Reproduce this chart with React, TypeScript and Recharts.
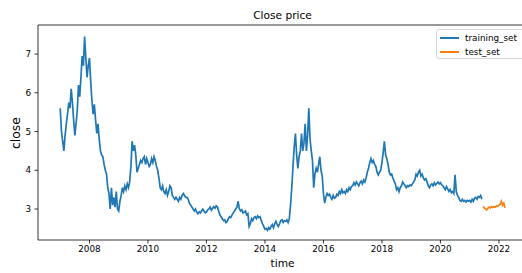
import React from 'react';
import { LineChart, Line, XAxis, YAxis, ReferenceLine } from 'recharts';

// semi-monthly close values (24 per year)
const close2007 = [5.6, 5.0, 4.75, 4.5, 4.9, 5.2, 5.45, 5.75, 5.6, 6.1, 5.75, 5.3, 4.9, 5.2, 5.55, 6.2, 5.9, 6.4, 6.95, 6.7, 7.45, 6.9, 6.4, 6.7];
const close2008 = [6.9, 6.3, 5.8, 5.45, 5.7, 5.3, 4.95, 5.2, 4.8, 4.5, 4.4, 4.35, 4.15, 4.0, 3.9, 3.55, 3.4, 3.0, 3.55, 3.1, 3.3, 3.05, 3.45, 3.0];
const close2009 = [2.95, 3.2, 3.35, 3.55, 3.45, 3.6, 3.5, 3.65, 3.55, 3.7, 4.1, 4.75, 4.5, 4.65, 4.4, 3.95, 4.05, 4.15, 4.25, 4.2, 4.3, 4.35, 4.15, 4.3];
const close2010 = [4.2, 4.1, 4.15, 4.3, 4.2, 4.35, 4.25, 4.1, 4.0, 3.8, 3.55, 3.5, 3.6, 3.45, 3.4, 3.5, 3.35, 3.45, 3.6, 3.55, 3.35, 3.3, 3.25, 3.3];
const close2011 = [3.25, 3.2, 3.3, 3.25, 3.35, 3.4, 3.35, 3.3, 3.3, 3.25, 3.15, 3.1, 3.05, 3.0, 2.95, 3.0, 2.92, 2.88, 2.93, 2.9, 2.95, 3.0, 2.95, 2.9];
const close2012 = [2.92, 2.98, 3.0, 3.05, 2.97, 3.02, 3.06, 3.02, 3.08, 3.05, 2.95, 2.85, 2.8, 2.75, 2.7, 2.72, 2.65, 2.68, 2.75, 2.8, 2.78, 2.85, 2.9, 2.95];
const close2013 = [3.0, 3.05, 3.2, 3.0, 2.95, 2.98, 2.9, 2.92, 2.95, 2.85, 2.88, 2.55, 2.62, 2.75, 2.7, 2.78, 2.8, 2.75, 2.82, 2.78, 2.8, 2.7, 2.62, 2.55];
const close2014 = [2.48, 2.5, 2.45, 2.52, 2.48, 2.55, 2.6, 2.52, 2.62, 2.68, 2.6, 2.55, 2.62, 2.7, 2.72, 2.65, 2.7, 2.68, 2.72, 2.65, 2.75, 3.1, 3.55, 4.1];
const close2015 = [4.6, 4.95, 4.4, 4.05, 4.35, 4.5, 4.95, 4.5, 4.7, 5.2, 4.5, 4.9, 5.6, 4.8, 4.5, 4.25, 3.55, 3.9, 4.05, 3.95, 4.15, 4.35, 4.0, 3.85];
const close2016 = [3.4, 3.15, 3.3, 3.4, 3.35, 3.38, 3.3, 3.25, 3.35, 3.28, 3.3, 3.38, 3.35, 3.45, 3.4, 3.5, 3.42, 3.45, 3.4, 3.5, 3.45, 3.55, 3.5, 3.58];
const close2017 = [3.6, 3.68, 3.62, 3.7, 3.65, 3.6, 3.68, 3.72, 3.65, 3.75, 3.7, 3.8, 3.95, 4.05, 4.2, 4.3, 4.2, 4.25, 4.15, 4.1, 3.95, 3.88, 3.95, 4.0];
const close2018 = [4.2, 4.45, 4.75, 4.4, 4.3, 4.15, 3.95, 3.88, 3.9, 3.8, 3.72, 3.65, 3.5, 3.55, 3.45, 3.55, 3.6, 3.7, 3.65, 3.6, 3.55, 3.6, 3.58, 3.62];
const close2019 = [3.6, 3.65, 3.7, 3.75, 3.9, 3.85, 3.95, 4.0, 3.85, 3.9, 3.8, 3.75, 3.78, 3.7, 3.6, 3.55, 3.62, 3.65, 3.6, 3.68, 3.62, 3.66, 3.7, 3.65];
const close2020 = [3.68, 3.62, 3.6, 3.55, 3.5, 3.58, 3.52, 3.45, 3.5, 3.42, 3.45, 3.4, 3.88, 3.45, 3.35, 3.3, 3.22, 3.2, 3.25, 3.2, 3.22, 3.18, 3.22, 3.2];
const train2021 = [3.22, 3.18, 3.25, 3.2, 3.28, 3.3, 3.25, 3.32, 3.3, 3.35, 3.25];
// test part starts at slot 11 of 2021
const test2021 = [3.07, 3.03, 3.0, 2.98, 3.02, 3.05, 3.03, 3.06, 3.04, 3.06, 3.05, 3.08, 3.07];
const test2022 = [3.1, 3.12, 3.2, 3.1, 3.15, 3.03];

const trainYears = [2007, 2008, 2009, 2010, 2011, 2012, 2013, 2014, 2015, 2016, 2017, 2018, 2019, 2020, 2021];
const trainByYear = [close2007, close2008, close2009, close2010, close2011, close2012, close2013, close2014, close2015, close2016, close2017, close2018, close2019, close2020, train2021];

const xTicks = [2008, 2010, 2012, 2014, 2016, 2018, 2020, 2022];
const yTicks = [3, 4, 5, 6, 7];

const trainData: { t: number; close: number }[] = [];
trainByYear.forEach((vals, k) => {
  vals.forEach((v, i) => trainData.push({ t: trainYears[k] + i / 24, close: v }));
});
const testData: { t: number; close: number }[] = [];
test2021.forEach((v, i) => testData.push({ t: 2021 + (11 + i) / 24, close: v }));
test2022.forEach((v, i) => testData.push({ t: 2022 + i / 24, close: v }));

const font = 'DejaVu Sans, sans-serif';
const tickStyle = { fontSize: 8.8, fill: '#000', fontFamily: font };

const legendItems = [
  { name: 'training_set', color: '#1f77b4' },
  { name: 'test_set', color: '#ff7f0e' },
];

export default function App() {
  return (
    <div style={{ position: 'fixed', left: 0, top: 0, width: 522, height: 273, overflow: 'hidden', background: '#fff' }}>
      <div style={{ position: 'absolute', left: 0, top: 9, width: 565, textAlign: 'center', fontFamily: font, fontSize: 10.6 }}>
        Close price
      </div>
      <div
        style={{
          position: 'absolute',
          left: 15,
          top: 132.5,
          transform: 'translate(-50%, -50%) rotate(-90deg)',
          fontFamily: font,
          fontSize: 12.4,
          whiteSpace: 'nowrap',
        }}
      >
        close
      </div>
      <div style={{ position: 'absolute', left: 38, top: 257, width: 489, textAlign: 'center', fontFamily: font, fontSize: 10.6 }}>
        time
      </div>
      <LineChart width={560} height={273} margin={{ top: 25, right: 33, bottom: 3, left: 0 }}>
        <XAxis
          dataKey="t"
          type="number"
          domain={[2006.24, 2022.96]}
          ticks={xTicks}
          allowDataOverflow
          tick={tickStyle}
          tickSize={3.5}
          tickMargin={2}
          height={30}
          axisLine={{ stroke: '#000', strokeWidth: 0.8 }}
          tickLine={{ stroke: '#000', strokeWidth: 0.8 }}
        />
        <YAxis
          type="number"
          domain={[2.2, 7.75]}
          ticks={yTicks}
          allowDataOverflow
          width={38}
          tick={tickStyle}
          tickSize={3.5}
          tickMargin={3.5}
          axisLine={{ stroke: '#000', strokeWidth: 0.8 }}
          tickLine={{ stroke: '#000', strokeWidth: 0.8 }}
        />
        <ReferenceLine y={7.75} stroke="#000" strokeWidth={0.8} ifOverflow="visible" />
        <Line
          data={trainData}
          dataKey="close"
          name="training_set"
          type="linear"
          stroke="#1f77b4"
          strokeWidth={1.7}
          dot={false}
          isAnimationActive={false}
        />
        <Line
          data={testData}
          dataKey="close"
          name="test_set"
          type="linear"
          stroke="#ff7f0e"
          strokeWidth={1.7}
          dot={false}
          isAnimationActive={false}
        />
      </LineChart>
      <div
        style={{
          position: 'absolute',
          left: 436,
          top: 29,
          width: 110,
          height: 30,
          background: 'rgba(255,255,255,0.8)',
          border: '1px solid #d6d6d6',
          borderRadius: 3,
          fontFamily: font,
          fontSize: 8.8,
          color: '#000',
          boxSizing: 'border-box',
          paddingTop: 1,
        }}
      >
        {legendItems.map((item) => (
          <div key={item.name} style={{ display: 'flex', alignItems: 'center', height: 14 }}>
            <span style={{ display: 'inline-block', width: 19, height: 1.5, background: item.color, marginLeft: 3, marginRight: 6 }} />
            <span>{item.name}</span>
          </div>
        ))}
      </div>
    </div>
  );
}
